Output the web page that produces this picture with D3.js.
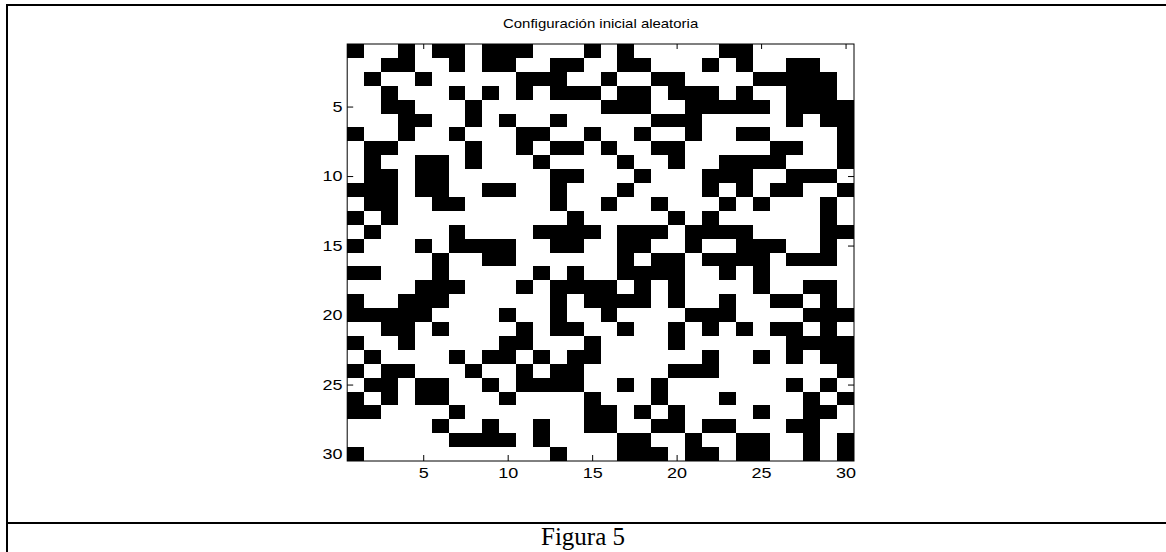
<!DOCTYPE html>
<html>
<head>
<meta charset="utf-8">
<script src="https://cdn.jsdelivr.net/npm/d3@7"></script>
<style>
  html, body { margin: 0; padding: 0; background: #fff; }
  svg { display: block; }
</style>
</head>
<body>
<svg id="chart" width="1166" height="552"></svg>
<script>
const title = 'Configuración inicial aleatoria';
const caption = 'Figura 5';

// black cells, one list of column numbers per row (row 1 at the top)
const blackCells = [
    [1, 4, 6, 7, 9, 10, 11, 15, 17, 23, 24],
    [3, 4, 7, 9, 10, 13, 14, 17, 18, 22, 24, 27, 28],
    [2, 5, 11, 12, 13, 16, 19, 20, 25, 26, 27, 28, 29],
    [3, 7, 9, 11, 13, 14, 15, 17, 18, 20, 21, 22, 24, 27, 28, 29],
    [3, 4, 8, 16, 17, 18, 21, 22, 23, 24, 25, 27, 28, 29, 30],
    [4, 5, 8, 10, 13, 19, 20, 21, 27, 29, 30],
    [1, 4, 7, 11, 12, 15, 18, 21, 24, 25, 30],
    [2, 3, 8, 11, 13, 14, 16, 19, 20, 26, 27, 30],
    [2, 5, 6, 8, 12, 17, 20, 23, 24, 25, 26, 30],
    [2, 3, 5, 6, 13, 14, 18, 22, 23, 24, 27, 28, 29],
    [1, 2, 3, 5, 6, 9, 10, 13, 17, 22, 24, 26, 27, 30],
    [2, 3, 6, 7, 13, 16, 19, 23, 25, 29],
    [1, 3, 14, 20, 22, 29],
    [2, 7, 12, 13, 14, 15, 17, 18, 19, 21, 22, 23, 24, 29, 30],
    [1, 5, 7, 8, 9, 10, 13, 14, 17, 18, 21, 24, 25, 26, 29],
    [6, 9, 10, 17, 19, 20, 22, 23, 24, 25, 27, 28, 29],
    [1, 2, 6, 12, 14, 17, 18, 19, 20, 23, 25],
    [5, 6, 7, 11, 13, 14, 15, 16, 18, 20, 25, 28, 29],
    [1, 4, 5, 6, 13, 15, 16, 17, 18, 20, 23, 26, 27, 29],
    [1, 2, 3, 4, 5, 10, 13, 16, 21, 22, 23, 28, 29, 30],
    [3, 4, 6, 11, 13, 14, 17, 20, 22, 24, 26, 27, 29],
    [1, 4, 10, 11, 15, 20, 27, 28, 29, 30],
    [2, 7, 9, 10, 12, 14, 15, 22, 25, 27, 29, 30],
    [1, 3, 4, 8, 11, 13, 14, 20, 21, 22, 30],
    [2, 3, 5, 6, 9, 11, 12, 13, 14, 17, 19, 27, 29],
    [1, 3, 5, 6, 10, 15, 19, 23, 28, 30],
    [1, 2, 7, 15, 16, 18, 20, 25, 28, 29],
    [6, 9, 12, 15, 16, 19, 20, 22, 23, 27, 28],
    [7, 8, 9, 10, 12, 17, 18, 21, 24, 25, 28, 30],
    [1, 13, 17, 18, 19, 21, 22, 24, 25, 28, 30]
];
const nCols = 30;
const xTicks = [5, 10, 15, 20, 25, 30];
const yTicks = [5, 10, 15, 20, 25, 30];

const svg = d3.select('#chart');
const plot = { left: 347.2, top: 44, right: 854, bottom: 461 };
const stretch = 1.2; // the figure is stretched sideways

// outer frame of the page figure
const frame = svg.append('g').attr('stroke', '#000').attr('stroke-width', 2);
frame.append('line').attr('x1', 6).attr('x2', 1166).attr('y1', 5).attr('y2', 5);
frame.append('line').attr('x1', 7).attr('x2', 7).attr('y1', 4).attr('y2', 552);
frame.append('line').attr('x1', 6).attr('x2', 1166).attr('y1', 523).attr('y2', 523);

const x = d3.scaleLinear().domain([0.5, nCols + 0.5]).range([plot.left, plot.right]);
const y = d3.scaleLinear().domain([0.5, blackCells.length + 0.5]).range([plot.top, plot.bottom]);

const cells = [];
blackCells.forEach((cols, i) => {
    cols.forEach(c => cells.push({ row: i + 1, col: c }));
});

svg.append('g')
    .attr('shape-rendering', 'crispEdges')
    .selectAll('rect')
    .data(cells)
    .enter().append('rect')
    .attr('x', d => x(d.col - 0.5))
    .attr('y', d => y(d.row - 0.5))
    .attr('width', d => x(d.col + 0.5) - x(d.col - 0.5))
    .attr('height', d => y(d.row + 0.5) - y(d.row - 0.5))
    .attr('fill', '#000');

// axes, ticks pointing inward like matlab
const tickFont = '"Liberation Sans", Arial, Helvetica, sans-serif';

function styleAxis(g, showText) {
    g.select('.domain').remove();
    g.selectAll('line').attr('stroke', '#000');
    g.selectAll('text')
        .style('font-family', tickFont)
        .style('font-size', '15px')
        .attr('fill', '#000')
        .attr('transform', `scale(${stretch},1)`);
    if (!showText) g.selectAll('text').remove();
}

svg.append('g')
    .attr('transform', `translate(0,${plot.bottom})`)
    .call(d3.axisBottom(x).tickValues(xTicks).tickSize(-6).tickPadding(6))
    .call(g => styleAxis(g, true));

svg.append('g')
    .attr('transform', `translate(0,${plot.top})`)
    .call(d3.axisTop(x).tickValues(xTicks).tickSize(-5))
    .call(g => styleAxis(g, false));

svg.append('g')
    .attr('transform', `translate(${plot.left},0)`)
    .call(d3.axisLeft(y).tickValues(yTicks).tickSize(-6).tickPadding(4))
    .call(g => styleAxis(g, true));

svg.append('g')
    .attr('transform', `translate(${plot.right},0)`)
    .call(d3.axisRight(y).tickValues(yTicks).tickSize(-6))
    .call(g => styleAxis(g, false));

// plot box
svg.append('rect')
    .attr('x', plot.left)
    .attr('y', plot.top)
    .attr('width', plot.right - plot.left)
    .attr('height', plot.bottom - plot.top)
    .attr('fill', 'none')
    .attr('stroke', '#000')
    .attr('stroke-width', 1);

svg.append('text')
    .attr('transform', `translate(${(plot.left + plot.right) / 2},28) scale(1.15,1)`)
    .attr('text-anchor', 'middle')
    .style('font-family', tickFont)
    .style('font-size', '13px')
    .text(title);

svg.append('text')
    .attr('x', 583)
    .attr('y', 545)
    .attr('text-anchor', 'middle')
    .style('font-family', '"Liberation Serif", "Times New Roman", serif')
    .style('font-size', '25px')
    .text(caption);
</script>
</body>
</html>
